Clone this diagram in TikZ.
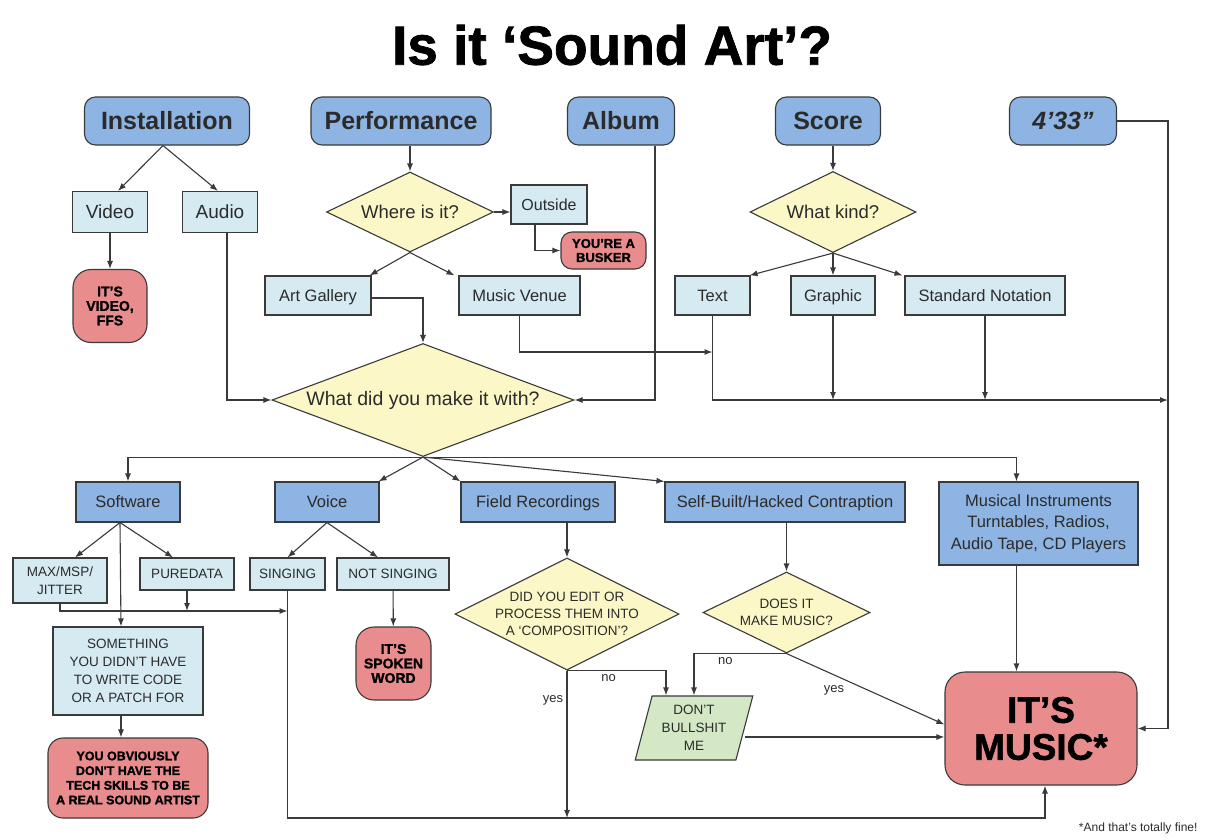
\documentclass[tikz,border=0pt]{standalone}
\usepackage{fontspec}
\setmainfont{Liberation Sans}
\newfontfamily\heavyfont{Liberation Sans}[BoldFeatures={FakeBold=1.4}]
\usepackage{tikz}
\usetikzlibrary{arrows.meta,positioning,calc,shapes.geometric}
\definecolor{ArtBlue}{HTML}{8DB4E2}
\definecolor{ArtPale}{HTML}{D6EAF2}
\definecolor{ArtRed}{HTML}{E98C8D}
\definecolor{ArtYellow}{HTML}{FBF7C6}
\definecolor{ArtGreen}{HTML}{D4E8C6}
\definecolor{ArtLine}{HTML}{3A3A3A}
\definecolor{ArtInk}{HTML}{2B2B2B}

\begin{document}
\begin{tikzpicture}[x=1pt,y=-1pt,>={Latex[length=8pt,width=6pt]}]
\tikzstyle{headbox}=[rectangle,rounded corners=11pt,draw=ArtLine,line width=1.1pt,fill=ArtBlue,
                     minimum height=48pt,inner sep=0pt,text=ArtInk,font=\fontsize{25}{30}\selectfont\bfseries]
\tikzstyle{pale}=[rectangle,draw=ArtLine,line width=1.1pt,fill=ArtPale,minimum height=39pt,
                  inner sep=0pt,text=ArtInk,align=center,font=\fontsize{16.5}{20}\selectfont]
\tikzstyle{oneline}=[text height=11.8pt,text depth=0pt]
\tikzstyle{medium}=[rectangle,draw=ArtLine,line width=1.1pt,fill=ArtBlue,minimum height=40pt,
                    inner sep=0pt,text=ArtInk,align=center,font=\fontsize{16.5}{21.5}\selectfont]
\tikzstyle{caps}=[pale,font=\fontsize{13.5}{17.5}\selectfont]
\tikzstyle{verdict}=[rectangle,rounded corners=16pt,draw=ArtLine,line width=1.1pt,fill=ArtRed,
                     inner sep=0pt,text=black,align=center,font=\heavyfont\fontsize{14}{14.5}\selectfont\bfseries]
\tikzstyle{ask}=[diamond,draw=ArtLine,line width=1.1pt,fill=ArtYellow,inner sep=0pt]
\tikzstyle{asktext}=[text=ArtInk,align=center,inner sep=0pt,font=\fontsize{18.5}{22}\selectfont]
\tikzstyle{askcaps}=[asktext,font=\fontsize{13.5}{17}\selectfont]
\tikzstyle{wire}=[->,draw=ArtLine,line width=1.1pt]
\tikzstyle{yn}=[text=ArtInk,font=\fontsize{13}{15}\selectfont]
\fill[white] (0,0) rectangle (1205,839);
\useasboundingbox (0,0) rectangle (1205,839);
\node[text=black,font=\heavyfont\fontsize{55}{60}\selectfont\bfseries] (title) at (612,45) {Is it ‘Sound Art’?};
\node[headbox,minimum width=165pt] (inst) at (167,121) {Installation};
\node[headbox,minimum width=180pt] (perf) at (401,121) {Performance};
\node[headbox,minimum width=107pt] (album) at (621,121) {Album};
\node[headbox,minimum width=105pt] (score) at (828,121) {Score};
\node[headbox,minimum width=107pt,font=\fontsize{25}{30}\selectfont\bfseries\itshape] (t433) at (1063,121) {4'33"};
\node[pale,oneline,text height=13.6pt,minimum width=75pt,minimum height=41pt,font=\fontsize{19}{22}\selectfont] (video) at (110,212) {Video};
\node[pale,oneline,text height=13.6pt,minimum width=75pt,minimum height=41pt,font=\fontsize{19}{22}\selectfont] (audio) at (220,212) {Audio};
\node[verdict,minimum width=74pt,minimum height=73pt,rounded corners=18pt] (ffs) at (110,306) {IT’S\\VIDEO,\\FFS};
\node[ask,minimum width=167pt,minimum height=80pt,label={[asktext]center:Where is it?}] (where) at (410,212) {};
\node[pale,oneline,text height=11.5pt,minimum width=76pt,font=\fontsize{16}{19}\selectfont] (outside) at (549,204.5) {Outside};
\node[verdict,minimum width=85pt,minimum height=37pt,rounded corners=11pt,font=\heavyfont\fontsize{13}{14}\selectfont\bfseries] (busker) at (603.5,250.5) {YOU’RE A\\BUSKER};
\node[pale,oneline,minimum width=106pt] (gallery) at (318,295.5) {Art Gallery};
\node[pale,oneline,minimum width=121pt] (venue) at (519.5,295.5) {Music Venue};
\node[ask,minimum width=302pt,minimum height=113pt,label={[asktext,font=\fontsize{19.5}{23}\selectfont]center:What did you make it with?}] (make) at (423,400) {};
\node[ask,minimum width=166pt,minimum height=81pt,label={[asktext]center:What kind?}] (kind) at (833,212) {};
\node[pale,oneline,minimum width=75pt] (text) at (712.5,295.5) {Text};
\node[pale,oneline,minimum width=84pt] (graphic) at (833,295.5) {Graphic};
\node[pale,oneline,minimum width=160pt] (std) at (985,295.5) {Standard Notation};
\node[medium,oneline,minimum width=104pt] (soft) at (128,502) {Software};
\node[medium,oneline,minimum width=104pt] (voice) at (327,502) {Voice};
\node[medium,oneline,minimum width=154pt] (field) at (538,502) {Field Recordings};
\node[medium,oneline,minimum width=240pt] (self) at (785,502) {Self-Built/Hacked Contraption};
\node[medium,minimum width=199pt,minimum height=83pt] (instr) at (1038.5,523.5) {Musical Instruments\\Turntables, Radios,\\Audio Tape, CD Players};
\node[caps,minimum width=94pt,minimum height=45pt] (maxmsp) at (60,580.5) {MAX/MSP/\\JITTER};
\node[caps,minimum width=94pt,minimum height=32pt] (pure) at (187,574) {PUREDATA};
\node[caps,minimum width=75pt,minimum height=32pt] (singing) at (287.5,574) {SINGING};
\node[caps,minimum width=112pt,minimum height=32pt] (notsing) at (393,574) {NOT SINGING};
\node[caps,minimum width=150pt,minimum height=88pt,font=\fontsize{13.5}{18}\selectfont] (some) at (128,671) {SOMETHING\\YOU DIDN'T HAVE\\TO WRITE CODE\\OR A PATCH FOR};
\node[verdict,minimum width=160pt,minimum height=80pt,rounded corners=15pt,font=\heavyfont\fontsize{12.5}{14.7}\selectfont\bfseries] (skills) at (128,778) {YOU OBVIOUSLY\\DON'T HAVE THE\\TECH SKILLS TO BE\\A REAL SOUND ARTIST};
\node[verdict,minimum width=75pt,minimum height=73pt,rounded corners=18pt] (spoken) at (393.5,663.5) {IT’S\\SPOKEN\\WORD};
\node[ask,minimum width=224pt,minimum height=112pt,label={[askcaps]center:DID YOU EDIT OR\\PROCESS THEM INTO\\A ‘COMPOSITION’?}] (edit) at (567,614) {};
\node[ask,minimum width=167pt,minimum height=81pt,label={[askcaps]center:DOES IT\\MAKE MUSIC?}] (does) at (786.5,612.5) {};
\node[trapezium,trapezium left angle=74,trapezium right angle=106,trapezium stretches=true,
      draw=ArtLine,line width=1.1pt,fill=ArtGreen,minimum width=118pt,minimum height=64pt,inner sep=0pt,
      align=center,text=ArtInk,font=\fontsize{13.5}{18}\selectfont] (bull) at (694,728) {DON'T\\BULLSHIT\\ME};
\node[verdict,minimum width=192pt,minimum height=113pt,rounded corners=20pt,font=\heavyfont\fontsize{37}{37}\selectfont\bfseries] (music) at (1041,728.5) {IT’S\\MUSIC*};
\node[anchor=east,text=ArtInk,font=\fontsize{12}{14}\selectfont] (note) at (1201,828) {*And that's totally fine!};
\coordinate (textjoin) at (712.5,352);
\coordinate (merge) at (1168,400);
\coordinate (singjoin) at (287.5,611);
\coordinate (floor) at (1045,818);
\draw[wire] ([xshift=-4pt]inst.south) -- ([xshift=8pt]video.north);
\draw[wire] ([xshift=-4pt]inst.south) -- ([xshift=-2pt]audio.north);
\draw[wire] (video) -- (ffs);
\draw[wire] ([xshift=7pt]audio.south) |- (make.west);
\draw[wire] (where.north |- perf.south) -- (where.north);
\draw[wire] (where.east) -- (where.east -| outside.west);
\draw[wire] ([xshift=-14pt]outside.south) |- (busker.west);
\draw[wire] (where.south) -- ([xshift=-2pt]gallery.north east);
\draw[wire] (where.south) -- ([xshift=-4pt]venue.north west);
\draw[wire] ([yshift=-2.5pt]gallery.east) -| (make.north);
\draw[wire] (venue.south) |- (textjoin);
\draw[wire] ([xshift=34pt]album.south) |- (make.east);
\draw[wire] (kind.north |- score.south) -- (kind.north);
\draw[wire] (kind.south) -- ([xshift=-1pt]text.north east);
\draw[wire] (kind.south) -- (graphic.north);
\draw[wire] (kind.south) -- ([xshift=-2pt]std.north west);
\draw[wire] (text.south) |- (merge);
\draw[wire] (graphic.south) -- (graphic.south |- merge);
\draw[wire] (std.south) -- (std.south |- merge);
\draw[wire] (t433.east) -| (merge) |- (music.east);
\draw[wire] (make.south) -| (soft.north);
\draw[wire] (make.south) -| ([xshift=-22pt]instr.north);
\draw[wire] (make.south) -- ([xshift=-1pt]voice.north east);
\draw[wire] (make.south) -- (field.north west);
\draw[wire] (make.south) -- (self.north west);
\draw[wire] ([xshift=-8pt]soft.south) -- ([xshift=15pt]maxmsp.north);
\draw[wire] ([xshift=-8pt]soft.south) -- ([xshift=-14pt]pure.north);
\draw[wire] ([xshift=-8pt]soft.south) -- ([xshift=-7pt]some.north);
\draw[wire] (maxmsp.south) |- (singjoin);
\draw[wire] (pure.south) -- (pure.south |- singjoin);
\draw[wire] ([xshift=-7pt]some.south) -- ([xshift=-7pt]skills.north);
\draw[wire] (voice.south) -- (singing.north);
\draw[wire] (voice.south) -- ([xshift=-15pt]notsing.north);
\draw[wire] (notsing) -- (spoken);
\draw[wire] (singing.south) |- (floor) -- (floor |- music.south);
\draw[wire] (edit.north |- field.south) -- (edit.north);
\draw[wire] (edit.south) -- (edit.south |- floor) node[yn,pos=0.2,left]{yes};
\draw[wire] (edit.south) -| ([xshift=-28pt]bull.north) node[yn,pos=0.21,below]{no};
\draw[wire] (does.north |- self.south) -- (does.north);
\draw[wire] (does.south) -| (bull.north) node[yn,pos=0.33,below]{no};
\draw[wire] (does.south) -- ([yshift=4pt]music.west) node[yn,pos=0.3,below=7pt]{yes};
\draw[wire] ([yshift=-9pt]bull.east) -- ([yshift=-9pt]bull.east -| music.west);
\draw[wire] ([xshift=-22pt]instr.south) -- ([xshift=-22pt]instr.south |- music.north);
\end{tikzpicture}
\end{document}
